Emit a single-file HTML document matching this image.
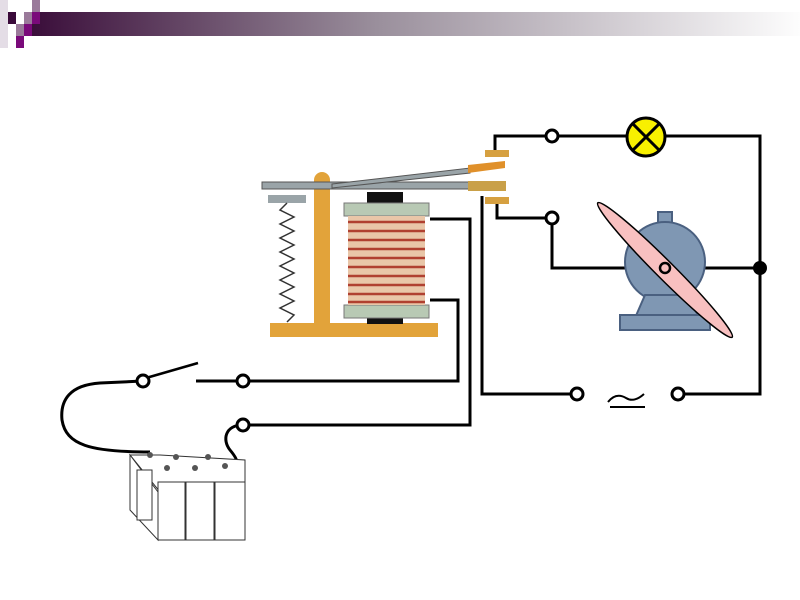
<!DOCTYPE html>
<html><head><style>body{margin:0;background:#fff}svg{display:block}</style></head><body>
<svg width="800" height="600" viewBox="0 0 800 600" xmlns="http://www.w3.org/2000/svg">
<defs><linearGradient id="g" x1="0" x2="1"><stop offset="0" stop-color="#3a0d3a"/><stop offset="0.45" stop-color="#9a8f9c"/><stop offset="1" stop-color="#fdfdfd"/></linearGradient></defs>
<rect x="30" y="12" width="770" height="24" fill="url(#g)"/>
<rect x="0" y="0" width="8" height="48" fill="#e4dde6"/>
<rect x="8" y="12" width="8" height="12" fill="#3a0a3a"/>
<rect x="16" y="24" width="8" height="12" fill="#9a7a9a"/>
<rect x="24" y="24" width="8" height="12" fill="#7a0a7a"/>
<rect x="24" y="12" width="8" height="12" fill="#9a7a9a"/>
<rect x="32" y="0" width="8" height="12" fill="#9a7a9a"/>
<rect x="32" y="12" width="8" height="12" fill="#7a0a7a"/>
<rect x="16" y="36" width="8" height="12" fill="#7a0a7a"/>
<g fill="none" stroke="#000" stroke-width="3">
<polyline points="495,150 495,136 760,136 760,394 678,394"/>
<polyline points="497,204 497,218 552,218 552,268 760,268"/>
<polyline points="482,196 482,394 577,394"/>
<polyline points="430,219 470,219 470,425 243,425"/>
<polyline points="430,300 458,300 458,381 243,381"/>
<path d="M143,381 L100,383 C70,385 60,400 62,420 C66,445 90,452 150,452"/>
<path d="M243,425 C225,425 222,440 230,450 C240,462 240,468 225,465"/>
<line x1="146" y1="378" x2="198" y2="363" stroke-width="2.5"/>
<line x1="196" y1="381" x2="243" y2="381"/>
<path d="M608,402 q8,-10 18,-4 q8,5 18,-4" stroke-width="2"/>
<line x1="610" y1="407" x2="645" y2="407" stroke-width="2"/>
</g>
<g fill="#fff" stroke="#000" stroke-width="3">
<circle cx="552" cy="136" r="6"/><circle cx="552" cy="218" r="6"/>
<circle cx="143" cy="381" r="6"/><circle cx="243" cy="381" r="6"/><circle cx="243" cy="425" r="6"/>
<circle cx="577" cy="394" r="6"/><circle cx="678" cy="394" r="6"/>
</g>
<circle cx="646" cy="137" r="19" fill="#f8f000" stroke="#000" stroke-width="3"/>
<path d="M633,124 L659,150 M659,124 L633,150" stroke="#000" stroke-width="3"/>
<circle cx="760" cy="268" r="7" fill="#000"/>
<g fill="#7f97b3" stroke="#4a6080" stroke-width="2">
<rect x="658" y="212" width="14" height="12"/>
<circle cx="665" cy="262" r="40"/>
<path d="M645,295 L685,295 L700,318 L635,318 Z"/>
<rect x="620" y="315" width="90" height="15"/>
</g>
<ellipse cx="665" cy="270" rx="95" ry="9" transform="rotate(45 665 270)" fill="#f8c0c0" stroke="#000" stroke-width="1.5"/>
<circle cx="665" cy="268" r="5" fill="#f8c0c0" stroke="#000" stroke-width="2.5"/>
<rect x="270" y="323" width="168" height="14" fill="#e2a33a"/>
<path d="M314,323 L314,180 a8,8 0 0 1 16,0 L330,323 Z" fill="#e2a33a"/>
<rect x="367" y="192" width="36" height="12" fill="#111"/>
<rect x="367" y="317" width="36" height="7" fill="#111"/>
<rect x="344" y="203" width="85" height="13" fill="#b8c9b4" stroke="#777"/>
<rect x="344" y="305" width="85" height="13" fill="#b8c9b4" stroke="#777"/>
<rect x="348" y="216" width="77" height="89" fill="#e9c6a8"/>
<g stroke="#b04030" stroke-width="2.5">
<line x1="348" y1="222" x2="425" y2="222"/><line x1="348" y1="231" x2="425" y2="231"/><line x1="348" y1="240" x2="425" y2="240"/><line x1="348" y1="249" x2="425" y2="249"/><line x1="348" y1="258" x2="425" y2="258"/><line x1="348" y1="267" x2="425" y2="267"/><line x1="348" y1="276" x2="425" y2="276"/><line x1="348" y1="285" x2="425" y2="285"/><line x1="348" y1="294" x2="425" y2="294"/><line x1="348" y1="302" x2="425" y2="302"/>
</g>
<rect x="262" y="182" width="212" height="7" fill="#9aa4a8" stroke="#555" stroke-width="1"/>
<rect x="468" y="181" width="38" height="10" fill="#c9a048"/>
<path d="M332,184 L470,168 L470,173 L332,188 Z" fill="#9aa4a8" stroke="#555" stroke-width="1"/>
<path d="M468,165 L505,161 L505,168 L468,173 Z" fill="#e0902a"/>
<rect x="485" y="150" width="24" height="7" fill="#d6a040"/>
<rect x="485" y="197" width="24" height="7" fill="#d6a040"/>
<rect x="268" y="195" width="38" height="8" fill="#9aa4a8"/>
<polyline points="287,203 280,210 294,217 280,224 294,231 280,238 294,245 280,252 294,259 280,266 294,273 280,280 294,287 280,294 294,301 280,308 294,315 287,322" fill="none" stroke="#333" stroke-width="1.5"/>
<g fill="#fff" stroke="#333" stroke-width="1">
<path d="M130,455 L160,455 L245,460 L245,492 L160,492 Z"/>
<path d="M130,455 L130,510 L158,540 L158,492 Z"/>
<rect x="158" y="482" width="27" height="58"/>
<rect x="186" y="482" width="28" height="58"/>
<rect x="215" y="482" width="30" height="58"/>
<rect x="137" y="470" width="15" height="50"/>
</g>
<g fill="#555"><circle cx="150" cy="455" r="3"/><circle cx="176" cy="457" r="3"/><circle cx="208" cy="457" r="3"/><circle cx="167" cy="468" r="3"/><circle cx="195" cy="468" r="3"/><circle cx="225" cy="466" r="3"/></g>
</svg>
</body></html>
